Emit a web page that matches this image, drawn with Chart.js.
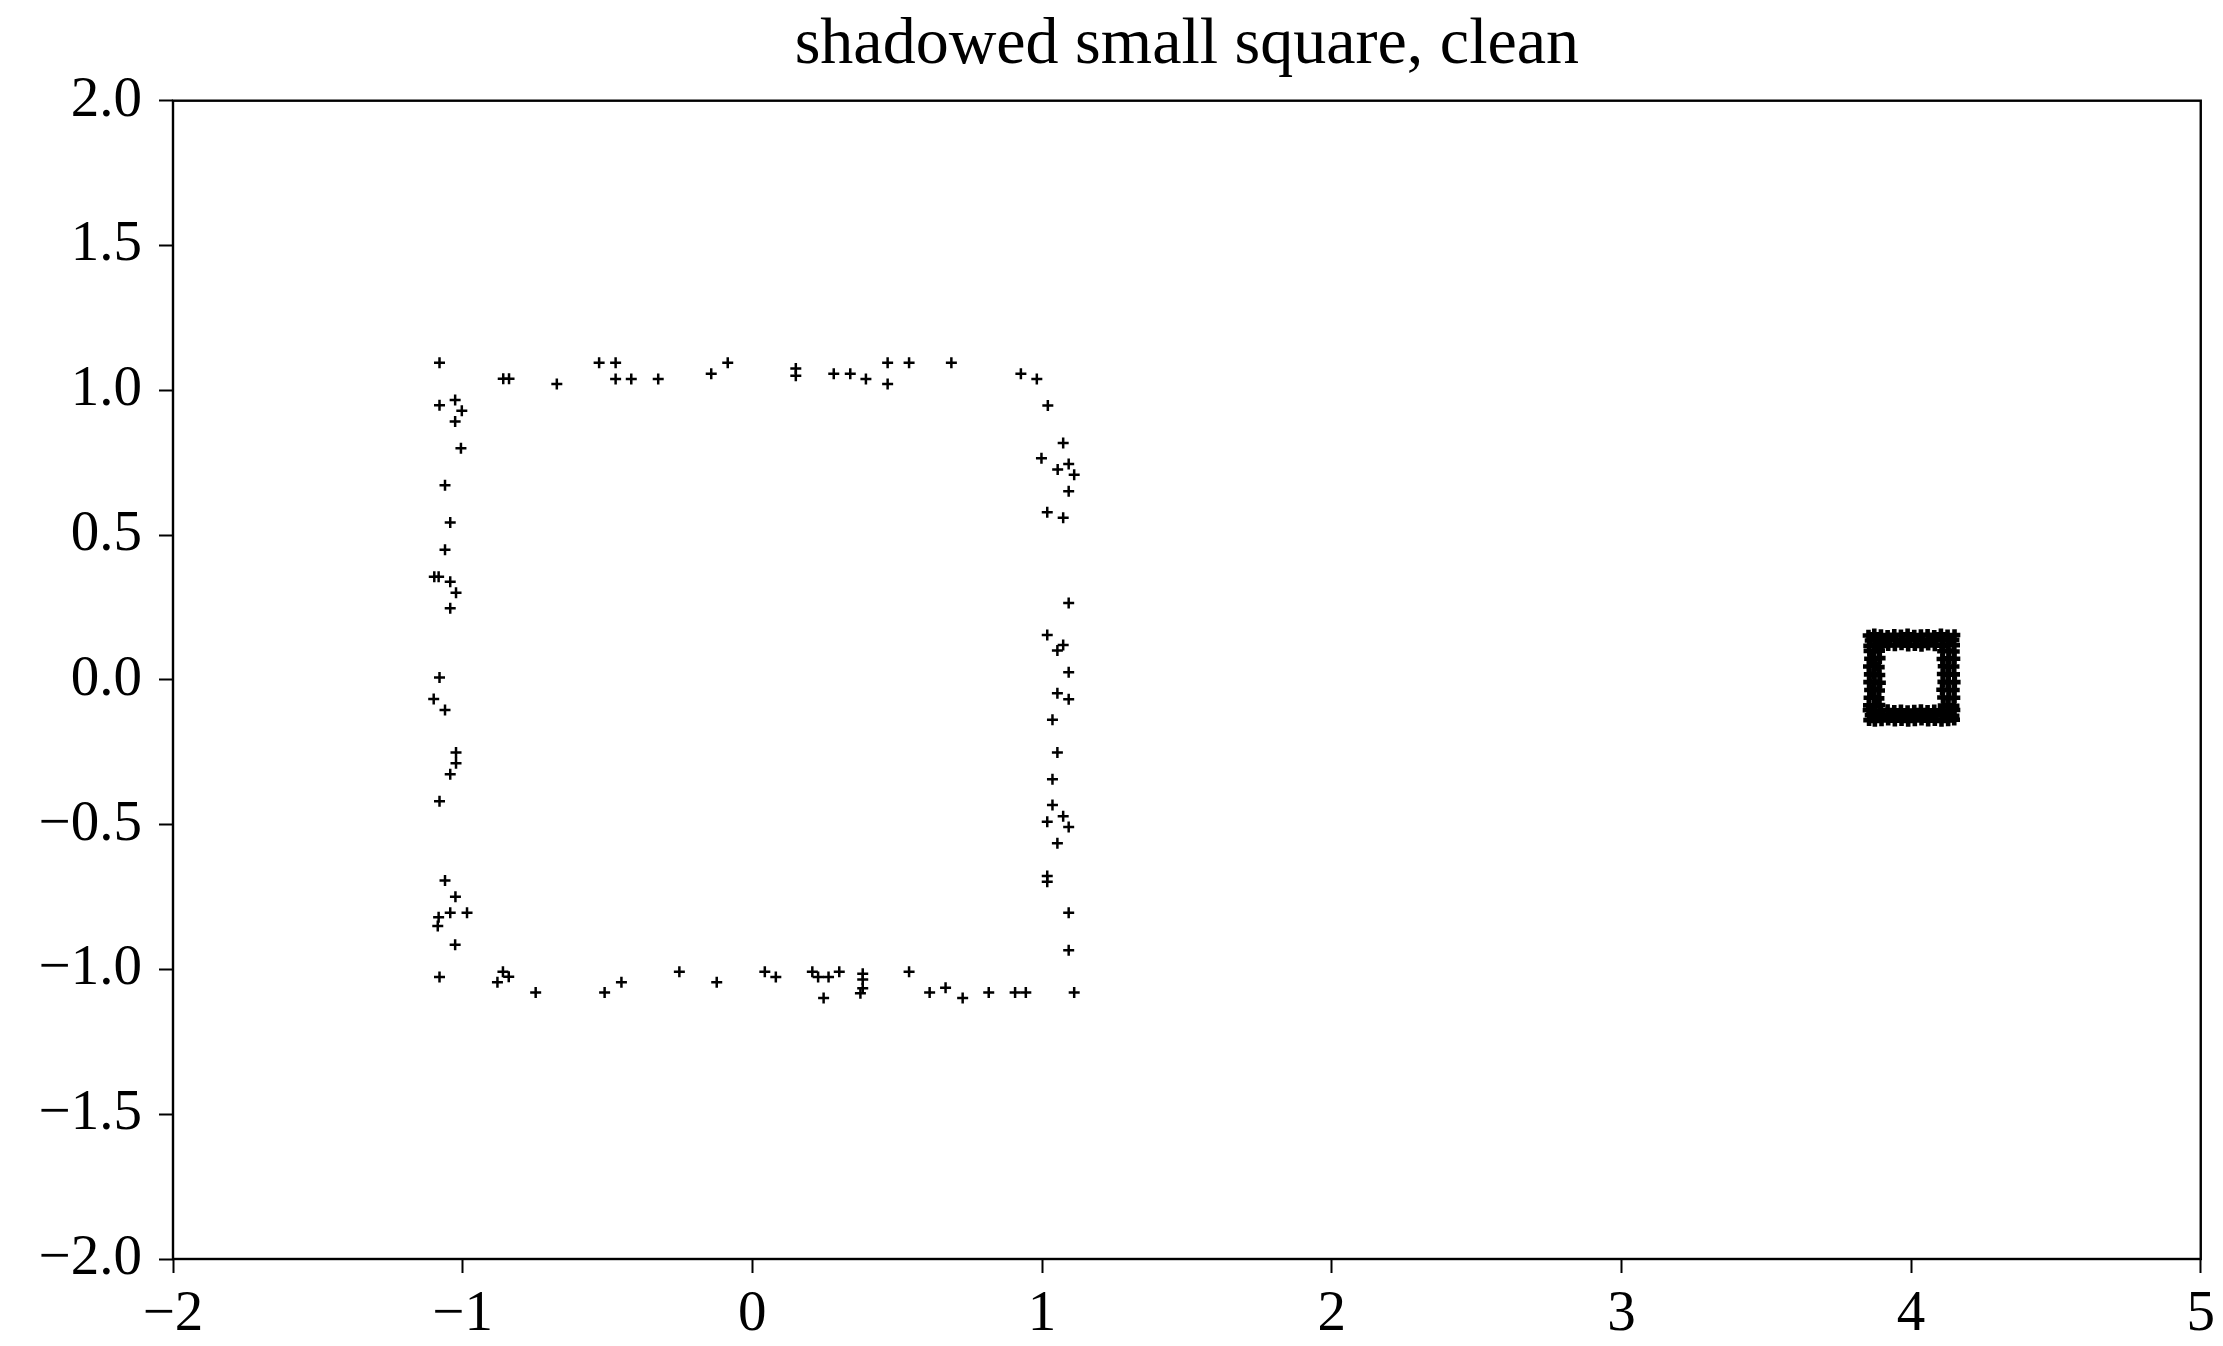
<!DOCTYPE html>
<html>
<head>
<meta charset="utf-8">
<title>shadowed small square, clean</title>
<script src="https://cdn.jsdelivr.net/npm/chart.js@4.4.1/dist/chart.umd.min.js"></script>
<style>
  html, body { margin: 0; padding: 0; background: #fff; }
</style>
</head>
<body>
<canvas id="grafico" width="2223" height="1346"></canvas>
<script>
// --- Datos ---
const titulo = "shadowed small square, clean";

const xTickValues = [-2, -1, 0, 1, 2, 3, 4, 5];
const xTickLabels = ["\u22122", "\u22121", "0", "1", "2", "3", "4", "5"];
const yTickValues = [-2, -1.5, -1, -0.5, 0, 0.5, 1, 1.5, 2];
const yTickLabels = ["\u22122.0", "\u22121.5", "\u22121.0", "\u22120.5", "0.0", "0.5", "1.0", "1.5", "2.0"];

// cuadrado grande (bordes: arriba, derecha, abajo, izquierda)
const grandeX = [
  -1.080, -0.860, -0.840, -0.675, -0.529, -0.472, -0.472, -0.418, -0.325, -0.142,
  -0.085, 0.150, 0.150, 0.281, 0.338, 0.392, 0.467, 0.467, 0.541, 0.687,
  0.927, 0.982,
  1.020, 1.073, 0.998, 1.092, 1.054, 1.111, 1.092, 1.018, 1.073, 1.092,
  1.018, 1.073, 1.053, 1.092, 1.053, 1.092, 1.036, 1.053, 1.036, 1.036,
  1.073, 1.018, 1.092, 1.053, 1.018, 1.018, 1.092, 1.092, 1.111,
  0.907, 0.944, 0.816, 0.726, 0.667, 0.612, 0.541, 0.381, 0.381, 0.381,
  0.373, 0.300, 0.263, 0.246, 0.227, 0.207, 0.081, 0.043, -0.123, -0.252,
  -0.452, -0.510, -0.748, -0.861, -0.841, -0.880,
  -1.080, -1.026, -1.083, -1.086, -1.043, -0.985, -1.025, -1.061, -1.080, -1.043,
  -1.023, -1.023, -1.061, -1.100, -1.080, -1.043, -1.023, -1.043, -1.098, -1.083,
  -1.061, -1.043, -1.061, -1.006, -1.026, -1.003, -1.026, -1.080
];
const grandeY = [
  1.095, 1.040, 1.040, 1.022, 1.095, 1.095, 1.039, 1.039, 1.039, 1.057,
  1.095, 1.075, 1.050, 1.057, 1.057, 1.039, 1.095, 1.022, 1.095, 1.095,
  1.057, 1.039,
  0.947, 0.818, 0.765, 0.745, 0.726, 0.708, 0.651, 0.579, 0.560, 0.265,
  0.155, 0.120, 0.101, 0.026, -0.046, -0.067, -0.138, -0.251, -0.343, -0.432,
  -0.471, -0.490, -0.508, -0.564, -0.677, -0.697, -0.804, -0.934, -1.080,
  -1.080, -1.080, -1.080, -1.099, -1.063, -1.080, -1.008, -1.015, -1.035, -1.065,
  -1.082, -1.008, -1.026, -1.099, -1.026, -1.008, -1.026, -1.008, -1.044, -1.008,
  -1.044, -1.080, -1.080, -1.008, -1.025, -1.044,
  -1.026, -0.915, -0.820, -0.850, -0.804, -0.804, -0.749, -0.693, -0.419, -0.326,
  -0.288, -0.251, -0.104, -0.066, 0.008, 0.247, 0.301, 0.339, 0.356, 0.356,
  0.449, 0.543, 0.672, 0.800, 0.892, 0.929, 0.966, 0.948
];

// cuadrado pequeño sombreado alrededor de (4, 0): tres filas arriba, tres abajo, luego columnas
const chicoX = [
  3.853, 3.873, 3.896, 3.919, 3.942, 3.965, 3.988, 4.011, 4.034, 4.057, 4.080, 4.103, 4.126, 4.150,
  3.860, 3.881, 3.904, 3.927, 3.950, 3.973, 3.996, 4.019, 4.042, 4.065, 4.088, 4.111, 4.134, 4.147,
  3.855, 3.875, 3.898, 3.921, 3.944, 3.967, 3.990, 4.013, 4.036, 4.059, 4.082, 4.105, 4.128, 4.149,
  3.853, 3.873, 3.896, 3.919, 3.942, 3.965, 3.988, 4.011, 4.034, 4.057, 4.080, 4.103, 4.126, 4.150,
  3.860, 3.881, 3.904, 3.927, 3.950, 3.973, 3.996, 4.019, 4.042, 4.065, 4.088, 4.111, 4.134, 4.147,
  3.855, 3.875, 3.898, 3.921, 3.944, 3.967, 3.990, 4.013, 4.036, 4.059, 4.082, 4.105, 4.128, 4.149,
  3.856, 3.858, 3.854, 3.857, 3.855, 3.858, 3.856, 3.854,
  3.873, 3.871, 3.875, 3.872, 3.874, 3.870, 3.873, 3.875,
  3.890, 3.892, 3.889, 3.891, 3.893, 3.890, 3.888, 3.891,
  4.110, 4.108, 4.112, 4.109, 4.111, 4.107, 4.110, 4.112,
  4.129, 4.131, 4.128, 4.130, 4.127, 4.131, 4.129, 4.128,
  4.148, 4.150, 4.147, 4.149, 4.151, 4.148, 4.150, 4.147
];
const chicoY = [
  0.153, 0.157, 0.155, 0.152, 0.156, 0.154, 0.157, 0.153, 0.155, 0.156, 0.152, 0.157, 0.154, 0.155,
  0.136, 0.139, 0.135, 0.138, 0.137, 0.134, 0.139, 0.136, 0.138, 0.135, 0.137, 0.139, 0.136, 0.138,
  0.118, 0.121, 0.117, 0.120, 0.119, 0.122, 0.118, 0.120, 0.117, 0.121, 0.119, 0.118, 0.122, 0.120,
  -0.105, -0.108, -0.106, -0.104, -0.107, -0.105, -0.108, -0.106, -0.104, -0.107, -0.105, -0.108, -0.106, -0.104,
  -0.122, -0.125, -0.121, -0.124, -0.123, -0.126, -0.122, -0.124, -0.121, -0.125, -0.123, -0.122, -0.126, -0.124,
  -0.139, -0.142, -0.140, -0.138, -0.141, -0.139, -0.142, -0.140, -0.138, -0.141, -0.139, -0.142, -0.140, -0.138,
  0.100, 0.073, 0.046, 0.019, -0.008, -0.035, -0.062, -0.088,
  0.098, 0.071, 0.048, 0.021, -0.006, -0.033, -0.060, -0.090,
  0.101, 0.075, 0.044, 0.017, -0.010, -0.037, -0.064, -0.087,
  0.099, 0.072, 0.047, 0.020, -0.007, -0.034, -0.061, -0.089,
  0.101, 0.074, 0.045, 0.018, -0.009, -0.036, -0.063, -0.088,
  0.098, 0.073, 0.046, 0.019, -0.008, -0.035, -0.062, -0.090
];

const fuente = "'Liberation Serif', 'Times New Roman', serif";

function puntos(xs, ys) {
  return xs.map((x, i) => ({ x, y: ys[i] }));
}

// marco completo alrededor del área del gráfico
const marco = {
  id: "marco",
  afterDraw(chart) {
    const { ctx, chartArea: a } = chart;
    ctx.save();
    ctx.strokeStyle = "#000";
    ctx.lineWidth = 2.4;
    ctx.strokeRect(a.left, a.top, a.right - a.left, a.bottom - a.top);
    ctx.restore();
  }
};

new Chart(document.getElementById("grafico"), {
  type: "scatter",
  data: {
    datasets: [
      {
        label: "grande",
        data: puntos(grandeX, grandeY),
        pointStyle: "cross",
        pointRadius: 5.5,
        pointHoverRadius: 5.5,
        pointBorderWidth: 2.5,
        borderColor: "#000",
        backgroundColor: "#000"
      },
      {
        label: "chico",
        data: puntos(chicoX, chicoY),
        pointStyle: "cross",
        pointRadius: 5.8,
        pointHoverRadius: 5.8,
        pointBorderWidth: 4.6,
        borderColor: "#000",
        backgroundColor: "#000"
      }
    ]
  },
  options: {
    responsive: false,
    animation: false,
    events: [],
    layout: { padding: { left: 0, right: 18, top: 0, bottom: 0 } },
    plugins: {
      legend: { display: false },
      tooltip: { enabled: false },
      title: {
        display: true,
        fullSize: false,
        text: titulo,
        color: "#000",
        font: { family: fuente, size: 66, weight: "normal" },
        padding: { top: 6, bottom: 15.5 }
      }
    },
    scales: {
      x: {
        type: "linear",
        min: -2,
        max: 5,
        afterFit: s => { s.height = 87; },
        afterBuildTicks: s => { s.ticks = xTickValues.map(v => ({ value: v })); },
        border: { display: false },
        grid: { drawOnChartArea: false, drawTicks: true, tickLength: 14, tickColor: "#000", tickWidth: 2 },
        ticks: {
          color: "#000",
          padding: 8,
          maxRotation: 0,
          font: { family: fuente, size: 57 },
          callback: v => xTickLabels[xTickValues.indexOf(v)]
        }
      },
      y: {
        type: "linear",
        min: -2,
        max: 2,
        afterFit: s => { s.width = 173; },
        afterBuildTicks: s => { s.ticks = yTickValues.map(v => ({ value: v })); },
        border: { display: false },
        grid: { drawOnChartArea: false, drawTicks: true, tickLength: 14, tickColor: "#000", tickWidth: 2 },
        ticks: {
          color: "#000",
          padding: 17,
          font: { family: fuente, size: 57 },
          callback: v => yTickLabels[yTickValues.indexOf(v)]
        }
      }
    }
  },
  plugins: [marco]
});
</script>
</body>
</html>
